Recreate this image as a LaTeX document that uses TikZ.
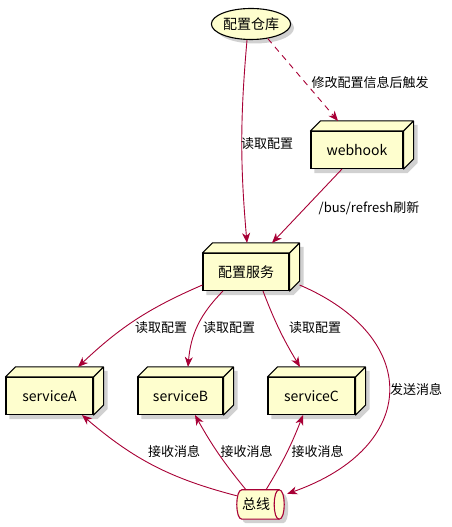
\documentclass[tikz,border=0pt]{standalone}
\usepackage{fontspec}
\usepackage{tikz}
\usetikzlibrary{arrows.meta, shapes.geometric, backgrounds}
\newfontfamily\cjk{Noto Sans CJK SC}
\definecolor{umlfill}{HTML}{FEFECE}
\definecolor{umlred}{HTML}{A80036}
\newcommand\nodefont{\cjk\fontsize{14}{17}\selectfont}
\newcommand\labelfont{\cjk\fontsize{13}{16}\selectfont}

\tikzset{
  cube/.style = {draw, fill=umlfill, line width=1.1pt, minimum height=37pt,
                 inner sep=0pt, font=\nodefont},
  cubeface/.style = {draw, fill=umlfill, line width=1.1pt, line join=round},
  storage/.style = {ellipse, draw, fill=umlfill, line width=1.1pt, minimum width=78pt,
                    minimum height=31pt, inner sep=0pt, font=\nodefont},
  queue/.style = {minimum width=47pt, minimum height=29pt, inner xsep=5pt,
                  inner ysep=0pt, font=\nodefont},
  queueline/.style = {draw=umlred, fill=umlfill, line width=1.1pt},
  dropshade/.style = {fill=black!18},
  link/.style = {draw=umlred, line width=0.9pt, -{Stealth[length=10pt, width=8pt, inset=3pt]}},
  lbl/.style = {font=\labelfont, inner sep=0pt},
}

% name, position, width, text
\newcommand\cubenode[4]{%
  \node[cube, minimum width=#3] (#1) at (#2) {#4};
  \draw[cubeface] (#1.north west) -- ++(10pt,10pt) -- ([shift={(10pt,10pt)}]#1.north east)
    -- ([shift={(10pt,10pt)}]#1.south east) -- (#1.south east) -- (#1.north east) -- cycle
    (#1.north east) -- ++(10pt,10pt);
  \begin{pgfonlayer}{background}
    \fill[dropshade] ([shift={(4pt,-4pt)}]#1.south west) -- ([shift={(4pt,-4pt)}]#1.north west)
      -- ++(10pt,10pt) -- ([shift={(14pt,6pt)}]#1.north east)
      -- ([shift={(14pt,6pt)}]#1.south east) -- ([shift={(4pt,-4pt)}]#1.south east) -- cycle;
  \end{pgfonlayer}
}

\begin{document}
\begin{tikzpicture}[x=1pt, y=1pt]
  \begin{pgfonlayer}{background}
    \fill[white] (0,0) rectangle (451,527);
  \end{pgfonlayer}
  \useasboundingbox (0,0) rectangle (451,527);

  \node[storage] (store) at (251,503) {配置仓库};
  \begin{pgfonlayer}{background}
    \fill[dropshade] ([shift={(4pt,-4pt)}]store.center) ellipse [x radius=39pt, y radius=15.5pt];
  \end{pgfonlayer}

  \cubenode{hook}{357,377}{92pt}{webhook}
  \cubenode{config}{246,255}{86pt}{配置服务}
  \cubenode{svcA}{49.5,131}{87pt}{serviceA}
  \cubenode{svcB}{180.5,131}{85pt}{serviceB}
  \cubenode{svcC}{311.5,131}{87pt}{serviceC}

  \node[queue] (bus) at (260.5,22.5) {\makebox[37pt][l]{总线}};
  \begin{pgfonlayer}{background}
    \begin{scope}[transform canvas={shift={(4pt,-4pt)}}]
      \fill[dropshade] ([xshift=5pt]bus.north west) -- ([xshift=-5pt]bus.north east)
        .. controls ([xshift=1.7pt]bus.north east) and ([xshift=1.7pt]bus.south east) .. ([xshift=-5pt]bus.south east)
        -- ([xshift=5pt]bus.south west)
        .. controls ([xshift=-1.7pt]bus.south west) and ([xshift=-1.7pt]bus.north west) .. cycle;
    \end{scope}
    \draw[queueline] ([xshift=5pt]bus.north west) -- ([xshift=-5pt]bus.north east)
      .. controls ([xshift=1.7pt]bus.north east) and ([xshift=1.7pt]bus.south east) .. ([xshift=-5pt]bus.south east)
      -- ([xshift=5pt]bus.south west)
      .. controls ([xshift=-1.7pt]bus.south west) and ([xshift=-1.7pt]bus.north west) .. cycle;
    \draw[queueline, fill=none] ([xshift=-5pt]bus.north east)
      .. controls ([xshift=-11.7pt]bus.north east) and ([xshift=-11.7pt]bus.south east) .. ([xshift=-5pt]bus.south east);
  \end{pgfonlayer}

  \draw[link] ([xshift=-4pt]store.south) to[bend right=5] ([shift={(1pt,10pt)}]config.north);
  \draw[link, dash pattern=on 6pt off 5pt] (store.-41) -- ([shift={(-19pt,10pt)}]hook.north);
  \draw[link] ([xshift=-15pt]hook.south) -- ([shift={(26pt,10pt)}]config.north);
  \draw[link] ([yshift=-13pt]config.west) to[bend right=10] ([shift={(28.5pt,10pt)}]svcA.north);
  \draw[link] ([xshift=-23pt]config.south) to[bend right=20] ([shift={(7.5pt,10pt)}]svcB.north);
  \draw[link] ([xshift=17pt]config.south) to[bend right=5] ([shift={(-11.5pt,10pt)}]svcC.north);
  \draw[link] ([shift={(10pt,-13pt)}]config.east) .. controls +(122,-52) and +(133,47)
    .. ([shift={(3pt,-4pt)}]bus.north east);
  \draw[link] ([yshift=-6pt]bus.north west) to[bend left=13] ([xshift=32.5pt]svcA.south);
  \draw[link] ([xshift=-14.5pt]bus.north) to[bend left=5] ([xshift=14.5pt]svcB.south);
  \draw[link] ([xshift=5.5pt]bus.north) to[bend right=5] ([xshift=-8.5pt]svcC.south);

  \node[lbl] (lread) at (267,383) {读取配置};
  \node[lbl] (lhook) at (370,444) {修改配置信息后触发};
  \node[lbl] (lrefresh) at (369,319) {/bus/refresh刷新};
  \node[lbl] (lreadA) at (161,199) {读取配置};
  \node[lbl] (lreadB) at (229,199) {读取配置};
  \node[lbl] (lreadC) at (315,199) {读取配置};
  \node[lbl] (lsend) at (416,137) {发送消息};
  \node[lbl] (lrecvA) at (174,75) {接收消息};
  \node[lbl] (lrecvB) at (246.5,75) {接收消息};
  \node[lbl] (lrecvC) at (317.5,75) {接收消息};
\end{tikzpicture}
\end{document}
